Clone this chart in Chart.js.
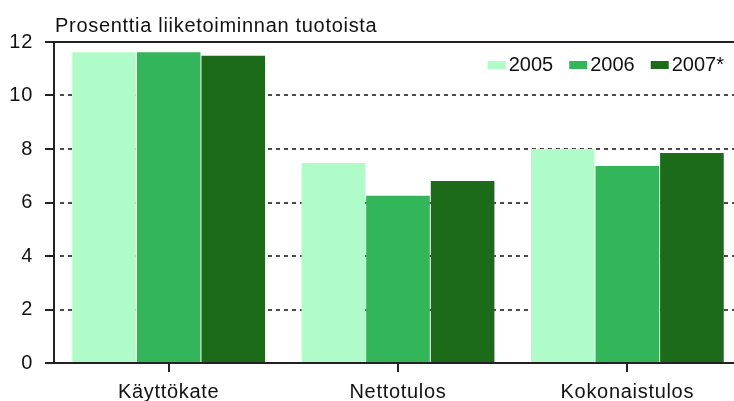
<!DOCTYPE html>
<html lang="fi">
<head>
  <meta charset="UTF-8">
  <title>Prosenttia liiketoiminnan tuotoista</title>
  <script src="https://cdn.jsdelivr.net/npm/chart.js"></script>
  <style>
    html, body { margin: 0; padding: 0; overflow: hidden; background: #fff; }
    .wrap { position: relative; width: 742px; height: 401px; }
  </style>
</head>
<body>
  <div class="wrap">
    <canvas id="chart" width="742" height="401"></canvas>
  </div>

<script>
  // Arvot luettu kuvasta
  const categories = ['Käyttökate', 'Nettotulos', 'Kokonaistulos'];
  const seriesLabels = ['2005', '2006', '2007*'];
  const values2005 = [11.62, 7.48, 8.0];
  const values2006 = [11.62, 6.25, 7.36];
  const values2007 = [11.49, 6.8, 7.85];
  const yTicks = [0, 2, 4, 6, 8, 10, 12];
  const titleText = 'Prosenttia liiketoiminnan tuotoista';

  const colors = ['#b0fcc8', '#33b55a', '#1b6b19'];
  const FONT = '20px "Liberation Sans", Arial, sans-serif';
  const SPACING = '0.7px';

  // hieman harvempi teksti kuin oletus
  const spacingPlugin = {
    id: 'spacing',
    beforeInit(chart) { chart.ctx.letterSpacing = SPACING; },
    beforeUpdate(chart) { chart.ctx.letterSpacing = SPACING; },
    beforeDraw(chart) { chart.ctx.letterSpacing = SPACING; }
  };

  // katkoviivat ja yläreuna
  const gridPlugin = {
    id: 'gridLines',
    beforeDatasetsDraw(chart) {
      const ctx = chart.ctx;
      const y = chart.scales.y;
      const area = chart.chartArea;
      ctx.save();
      yTicks.forEach(function (v) {
        if (v === 0) return;
        const py = Math.round(y.getPixelForValue(v));
        ctx.beginPath();
        if (v === 12) {
          ctx.setLineDash([]);
          ctx.lineWidth = 2;
          ctx.strokeStyle = '#222';
          ctx.moveTo(area.left, py);
        } else {
          ctx.setLineDash([4, 4]);
          ctx.lineWidth = 1.5;
          ctx.strokeStyle = '#111';
          ctx.moveTo(area.left + 6, py);
        }
        ctx.lineTo(area.right, py);
        ctx.stroke();
      });
      ctx.restore();
    }
  };

  // otsikko ja selite
  const textPlugin = {
    id: 'texts',
    afterDraw(chart) {
      const ctx = chart.ctx;
      ctx.save();
      ctx.letterSpacing = SPACING;
      ctx.font = FONT;
      ctx.fillStyle = '#111';
      ctx.textBaseline = 'alphabetic';
      ctx.textAlign = 'left';
      ctx.fillText(titleText, 55, 32);

      ctx.letterSpacing = '0px';
      let x = 724;
      ctx.textBaseline = 'middle';
      for (let i = chart.data.datasets.length - 1; i >= 0; i--) {
        const ds = chart.data.datasets[i];
        const w = ctx.measureText(ds.label).width;
        ctx.fillStyle = '#111';
        ctx.fillText(ds.label, x - w, 65);
        ctx.fillStyle = ds.backgroundColor;
        ctx.fillRect(x - w - 3 - 18, 61, 18, 8);
        x = x - w - 3 - 18 - 16;
      }
      ctx.restore();
    }
  };

  const ctx = document.getElementById('chart').getContext('2d');
  new Chart(ctx, {
    type: 'bar',
    data: {
      labels: categories,
      datasets: [
        { label: seriesLabels[0], data: values2005, backgroundColor: colors[0] },
        { label: seriesLabels[1], data: values2006, backgroundColor: colors[1] },
        { label: seriesLabels[2], data: values2007, backgroundColor: colors[2] }
      ]
    },
    options: {
      responsive: false,
      animation: false,
      devicePixelRatio: 1,
      layout: { padding: { top: 42, left: 0, right: 0, bottom: 0 } },
      datasets: {
        bar: { categoryPercentage: 0.845, barPercentage: 0.985 }
      },
      plugins: {
        legend: { display: false },
        title: { display: false },
        tooltip: { enabled: false }
      },
      scales: {
        x: {
          afterFit: function (scale) { scale.height = 38; },
          grid: { offset: false, drawOnChartArea: false, drawTicks: true, tickLength: 9, color: '#222', lineWidth: 2 },
          border: { display: true, color: '#222', width: 2 },
          ticks: { color: '#111', font: { family: '"Liberation Sans", Arial, sans-serif', size: 20 }, padding: 8, maxRotation: 0 }
        },
        y: {
          min: 0,
          max: 12,
          afterFit: function (scale) { scale.width = 54; },
          afterBuildTicks: function (scale) { scale.ticks = yTicks.map(v => ({ value: v })); },
          grid: { drawOnChartArea: false, drawTicks: true, tickLength: 9, color: '#222', lineWidth: 2 },
          border: { display: true, color: '#222', width: 2 },
          ticks: { color: '#111', font: { family: '"Liberation Sans", Arial, sans-serif', size: 20 }, padding: 12 }
        }
      }
    },
    plugins: [spacingPlugin, gridPlugin, textPlugin]
  });
</script>
</body>
</html>
